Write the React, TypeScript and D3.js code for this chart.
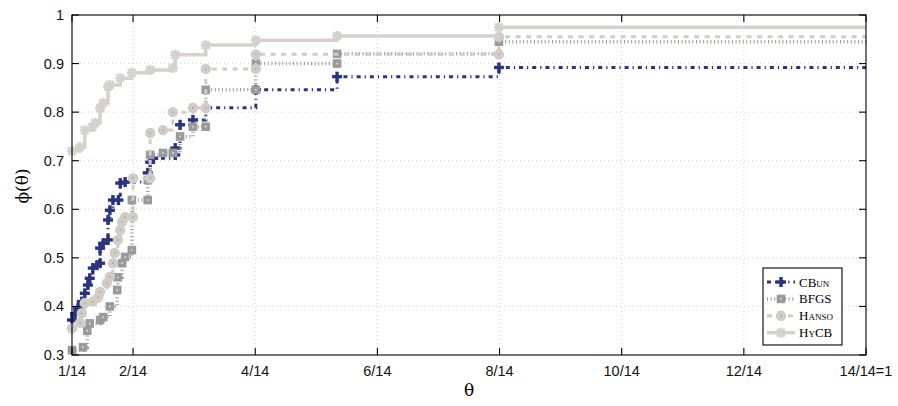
import React from 'react';
import * as d3 from 'd3';

// theta is stored in units of 1/14
const xTicks = [1, 2, 4, 6, 8, 10, 12, 14];
const xTickLabels = ['1/14', '2/14', '4/14', '6/14', '8/14', '10/14', '12/14', '14/14=1'];
const yTicks = [0.3, 0.4, 0.5, 0.6, 0.7, 0.8, 0.9, 1];
const yTickLabels = ['0.3', '0.4', '0.5', '0.6', '0.7', '0.8', '0.9', '1'];

const cbunTheta = [1.0, 1.05, 1.1, 1.16, 1.21, 1.26, 1.29, 1.34, 1.41, 1.46, 1.46, 1.51, 1.59, 1.59, 1.62, 1.67, 1.76, 1.79, 1.87, 2.24, 2.28, 2.33, 2.69, 2.69, 2.77, 2.98, 3.19, 4.01, 5.34, 7.99];
const cbunPhi = [0.372, 0.385, 0.397, 0.41, 0.427, 0.444, 0.458, 0.479, 0.485, 0.489, 0.52, 0.53, 0.537, 0.578, 0.598, 0.619, 0.619, 0.654, 0.656, 0.675, 0.697, 0.705, 0.712, 0.726, 0.774, 0.784, 0.809, 0.846, 0.873, 0.892];

const bfgsTheta = [1.0, 1.18, 1.25, 1.29, 1.46, 1.51, 1.62, 1.74, 1.75, 1.82, 1.87, 1.98, 1.98, 2.24, 2.24, 2.28, 2.49, 2.65, 2.77, 2.98, 3.19, 3.19, 4.01, 4.01, 5.34, 5.34, 7.99];
const bfgsPhi = [0.31, 0.316, 0.35, 0.365, 0.372, 0.378, 0.4, 0.434, 0.46, 0.489, 0.502, 0.516, 0.619, 0.619, 0.66, 0.712, 0.716, 0.716, 0.75, 0.77, 0.77, 0.846, 0.846, 0.9, 0.9, 0.92, 0.945];

const hansoTheta = [1.0, 1.13, 1.16, 1.21, 1.34, 1.43, 1.46, 1.57, 1.62, 1.67, 1.7, 1.75, 1.79, 1.82, 1.87, 2.0, 2.0, 2.28, 2.28, 2.49, 2.65, 2.98, 3.19, 3.19, 4.01, 4.01, 7.99, 7.99];
const hansoPhi = [0.355, 0.366, 0.386, 0.407, 0.41, 0.419, 0.43, 0.448, 0.461, 0.489, 0.51, 0.537, 0.557, 0.574, 0.584, 0.584, 0.664, 0.664, 0.757, 0.763, 0.8, 0.809, 0.809, 0.889, 0.889, 0.919, 0.919, 0.955];

const hycbTheta = [1.0, 1.13, 1.21, 1.33, 1.38, 1.46, 1.51, 1.59, 1.62, 1.79, 1.98, 2.28, 2.65, 2.69, 3.19, 4.01, 5.34, 7.99];
const hycbPhi = [0.72, 0.728, 0.763, 0.769, 0.778, 0.808, 0.819, 0.852, 0.856, 0.87, 0.881, 0.887, 0.891, 0.918, 0.938, 0.948, 0.957, 0.975];

type Marker = 'plus' | 'square' | 'circle' | 'star';

const series = [
  { name: 'CBun', theta: cbunTheta, phi: cbunPhi, color: '#2a3380', dash: '4,4,1.2,4', width: 3, marker: 'plus' as Marker },
  { name: 'BFGS', theta: bfgsTheta, phi: bfgsPhi, color: '#9b9b9b', dash: '1,2.6', width: 3.5, marker: 'square' as Marker },
  { name: 'Hanso', theta: hansoTheta, phi: hansoPhi, color: '#d1cdc6', dash: '5,5.5', width: 3, marker: 'circle' as Marker },
  { name: 'HyCB', theta: hycbTheta, phi: hycbPhi, color: '#d6d2cb', dash: null, width: 3.5, marker: 'star' as Marker },
];

const x = d3.scaleLinear().domain([1, 14]).range([72, 866]);
const y = d3.scaleLinear().domain([0.3, 1]).range([355, 15]);

function MarkerShape({ type, cx, cy, color }: { type: Marker; cx: number; cy: number; color: string }) {
  if (type === 'plus') {
    return (
      <g stroke={color} strokeWidth={3.4}>
        <line x1={cx - 5} x2={cx + 5} y1={cy} y2={cy} />
        <line x1={cx} x2={cx} y1={cy - 5} y2={cy + 5} />
      </g>
    );
  }
  if (type === 'square') {
    return (
      <g>
        <rect x={cx - 4.3} y={cy - 4.3} width={8.6} height={8.6} fill={color} />
        <circle cx={cx} cy={cy} r={0.9} fill="#e2e2e2" />
      </g>
    );
  }
  if (type === 'circle') {
    return (
      <g>
        <circle cx={cx} cy={cy} r={5.2} fill={color} />
        <circle cx={cx} cy={cy} r={0.9} fill="#a8a59f" />
      </g>
    );
  }
  return (
    <g stroke={color} strokeWidth={2.6}>
      <line x1={cx - 5} x2={cx + 5} y1={cy} y2={cy} />
      <line x1={cx} x2={cx} y1={cy - 5} y2={cy + 5} />
      <line x1={cx - 3.8} x2={cx + 3.8} y1={cy - 3.8} y2={cy + 3.8} />
      <line x1={cx - 3.8} x2={cx + 3.8} y1={cy + 3.8} y2={cy - 3.8} />
    </g>
  );
}

const line = d3
  .line<[number, number]>()
  .x((d) => x(d[0]))
  .y((d) => y(d[1]))
  .curve(d3.curveStepAfter);

export default function App() {
  const sans = 'Liberation Sans, Arial, sans-serif';
  const serif = 'Liberation Serif, Times New Roman, serif';
  const greek = 'DejaVu Serif, serif';
  const legendTop = 282;
  const legendGap = 16.9;
  return (
    <svg width={898} height={406} style={{ position: 'absolute', left: 0, top: 0, background: '#fff' }}>
      {/* grid */}
      <g stroke="#cfcfcf" strokeWidth={1} strokeDasharray="1,3">
        {xTicks.slice(1, -1).map((t) => (
          <line key={'gx' + t} x1={x(t)} x2={x(t)} y1={15} y2={355} />
        ))}
        {yTicks.slice(1, -1).map((t) => (
          <line key={'gy' + t} x1={72} x2={866} y1={y(t)} y2={y(t)} />
        ))}
      </g>

      {/* series */}
      {series.map((s) => {
        const pts: [number, number][] = s.theta.map((t, i) => [t, s.phi[i]]);
        pts.push([14, s.phi[s.phi.length - 1]]);
        return (
          <g key={s.name}>
            <path d={line(pts) || ''} fill="none" stroke={s.color} strokeWidth={s.width} strokeDasharray={s.dash || undefined} />
            {s.theta.map((t, i) => (
              <MarkerShape key={i} type={s.marker} cx={x(t)} cy={y(s.phi[i])} color={s.color} />
            ))}
          </g>
        );
      })}

      {/* axes box and ticks */}
      <rect x={72} y={15} width={794} height={340} fill="none" stroke="#000" strokeWidth={1.1} />
      <g stroke="#000" strokeWidth={1.1}>
        {xTicks.map((t) => (
          <g key={'tx' + t}>
            <line x1={x(t)} x2={x(t)} y1={355} y2={348} />
            <line x1={x(t)} x2={x(t)} y1={15} y2={22} />
          </g>
        ))}
        {yTicks.map((t) => (
          <g key={'ty' + t}>
            <line x1={72} x2={79} y1={y(t)} y2={y(t)} />
            <line x1={866} x2={859} y1={y(t)} y2={y(t)} />
          </g>
        ))}
      </g>

      {/* tick labels */}
      <g fontFamily={sans} fontSize={14.5} fill="#111">
        {xTicks.map((t, i) => (
          <text key={'lx' + t} x={x(t)} y={376} textAnchor="middle">
            {xTickLabels[i]}
          </text>
        ))}
        {yTicks.map((t, i) => (
          <text key={'ly' + t} x={64} y={y(t) + 5} textAnchor="end">
            {yTickLabels[i]}
          </text>
        ))}
      </g>

      {/* axis titles */}
      <text x={469} y={396} textAnchor="middle" fontFamily={greek} fontSize={17}>
        θ
      </text>
      <text transform="translate(28,186) rotate(-90)" textAnchor="middle" fontFamily={greek} fontSize={17}>
        ϕ(θ)
      </text>

      {/* legend */}
      <rect x={763} y={268} width={79} height={77} fill="#fff" stroke="#000" strokeWidth={1.1} />
      {series.map((s, i) => {
        const ly = legendTop + i * legendGap;
        return (
          <g key={'lg' + s.name}>
            <line x1={767} x2={795} y1={ly} y2={ly} stroke={s.color} strokeWidth={s.width} strokeDasharray={s.dash || undefined} />
            <MarkerShape type={s.marker} cx={781} cy={ly} color={s.color} />
            <text x={799} y={ly + 4.5} fontFamily={serif} fontSize={13} style={{ fontVariant: 'small-caps' }}>
              {s.name}
            </text>
          </g>
        );
      })}
    </svg>
  );
}
